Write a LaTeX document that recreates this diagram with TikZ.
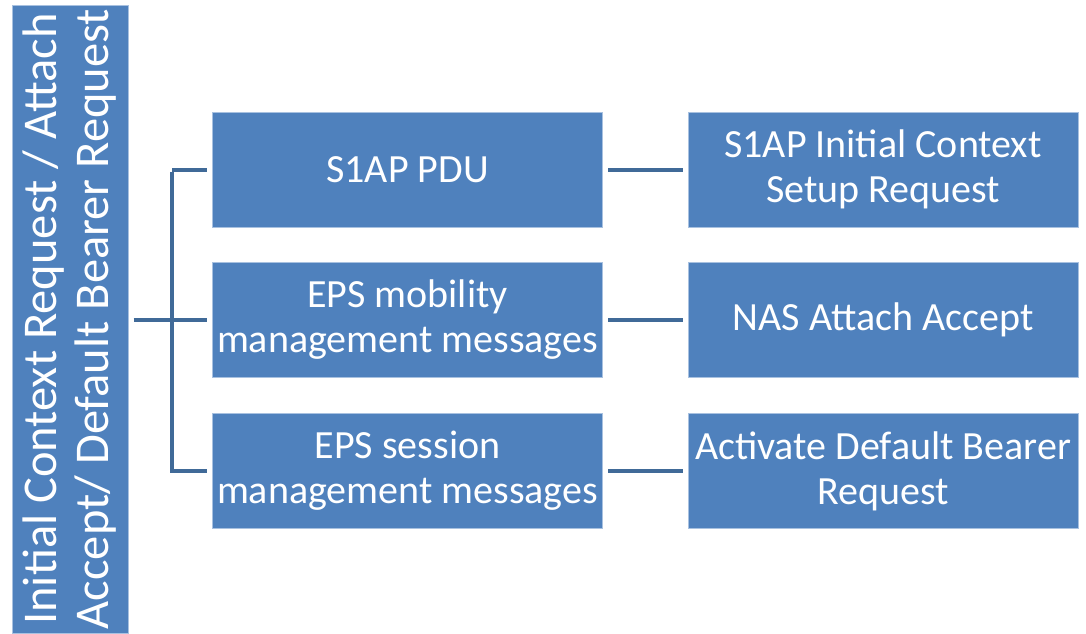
\documentclass[tikz,border=0pt]{standalone}
\usepackage{fontspec}
\setmainfont{Carlito}
\definecolor{boxblue}{RGB}{79,129,189}
\definecolor{edgeblue}{RGB}{168,193,224}
\definecolor{linkblue}{RGB}{64,106,152}
\begin{document}
\begin{tikzpicture}[
      x=1pt, y=-1pt,
      every node/.style={inner sep=0pt,font=\fontsize{40}{45}\selectfont,text=white,align=center},
      cell/.style={fill=boxblue,draw=edgeblue,line width=1pt,minimum width=390pt,minimum height=115pt},
      link/.style={draw=linkblue,line width=4pt}
    ]
      \useasboundingbox (0,0) rectangle (1086,633);
      \node[fill=boxblue,draw=edgeblue,line width=1pt,rotate=90,minimum width=628pt,minimum height=116pt,
        font=\fontsize{48.5}{52}\selectfont] (msg) at (70,319)
        {Initial Context Request / Attach\\Accept/ Default Bearer Request};
      \node[cell] (pdu) at (407.5,169.5) {S1AP PDU};
      \node[cell] (emm) at (407.5,320) {EPS mobility\\management messages};
      \node[cell] (esm) at (407.5,471) {EPS session\\management messages};
      \node[cell] (setup) at (883,169.5) {S1AP Initial Context\\Setup Request};
      \node[cell] (attach) at (883,320) {NAS Attach Accept};
      \node[cell] (bearer) at (883,471) {Activate Default Bearer\\Request};
      \coordinate (fork) at (172,320);
      \draw[link,shorten <=5pt] (fork -| msg.south) -- (fork);
      \draw[link,shorten >=5pt] (fork) -- (emm.west);
      \draw[link,shorten >=5pt] ([yshift=-2pt]fork |- pdu.west) -- (fork |- esm.west) -- (esm.west);
      \draw[link,shorten >=5pt] (fork |- pdu.west) -- (pdu.west);
      \draw[link,shorten <=5pt,shorten >=5pt] (pdu) -- (setup);
      \draw[link,shorten <=5pt,shorten >=5pt] (emm) -- (attach);
      \draw[link,shorten <=5pt,shorten >=5pt] (esm) -- (bearer);
    \end{tikzpicture}
\end{document}
